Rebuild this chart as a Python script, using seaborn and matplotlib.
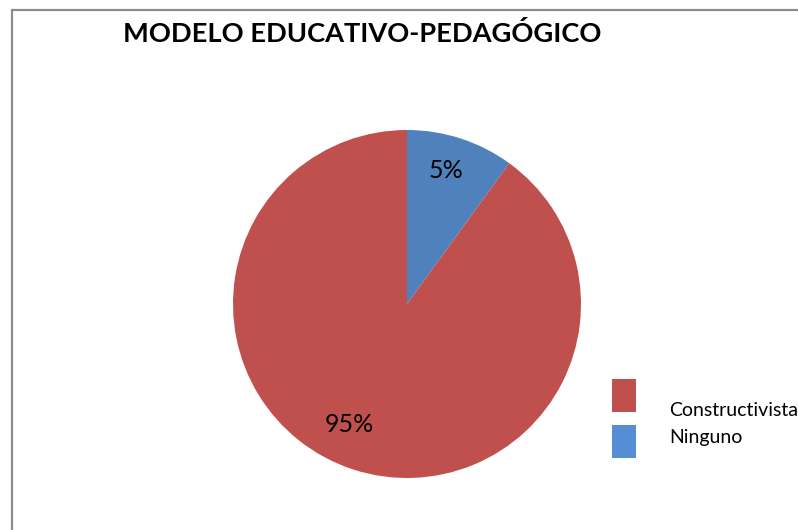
import matplotlib
matplotlib.use('Agg')
import matplotlib.pyplot as plt
import seaborn as sns
from matplotlib.patches import Rectangle

# chart data (slice sizes, labels as printed)
categories = ['Ninguno', 'Constructivista']
values = [10, 90]
pct_labels = ['5%', '95%']
legend_order = ['Constructivista', 'Ninguno']

pie_colors = {'Constructivista': '#C0504D', 'Ninguno': '#4F81BD'}
legend_colors = {'Constructivista': '#C0504D', 'Ninguno': '#558ED5'}

sns.set_theme(style='white')
plt.rcParams['font.family'] = ['Lato', 'DejaVu Sans']

W, H = 798, 530
fig = plt.figure(figsize=(W / 100, H / 100), dpi=100)
fig.patch.set_facecolor('white')

# outer chart frame (cut off at right and bottom like the screenshot)
fig.add_artist(Rectangle((12 / W, -0.05), 1.1, (H - 10) / H + 0.05,
                         transform=fig.transFigure, fill=False,
                         edgecolor='#8c8c8c', lw=1.6))

ax = fig.add_axes([233 / W, (H - 478) / H, 348 / W, 348 / H])
ax.pie(values, colors=[pie_colors[c] for c in categories], startangle=90,
       counterclock=False, radius=1,
       wedgeprops=dict(linewidth=0))
ax.set_xlim(-1, 1)
ax.set_ylim(-1, 1)
ax.set_aspect('equal')
ax.axis('off')

label_pos = [(0.224, 0.770), (-0.333, -0.695)]
for (x, y), lab in zip(label_pos, pct_labels):
    ax.text(x, y, lab, ha='center', va='center', fontsize=18, color='black')

fig.text(362 / W, 1 - 34 / H, 'MODELO EDUCATIVO-PEDAGÓGICO',
         ha='center', va='center', fontsize=19.6, fontweight='bold', color='black')

# legend drawn by hand to keep the offset text of the original
patch_tops = [379, 425]
text_y = [411, 438]
for name, top, ty in zip(legend_order, patch_tops, text_y):
    fig.add_artist(Rectangle((612 / W, 1 - (top + 33) / H), 24 / W, 33 / H,
                             transform=fig.transFigure,
                             facecolor=legend_colors[name], edgecolor='none'))
    fig.text(669 / W, 1 - ty / H, name, ha='left', va='center',
             fontsize=14, color='black')

fig.savefig('out.png', dpi=100)
